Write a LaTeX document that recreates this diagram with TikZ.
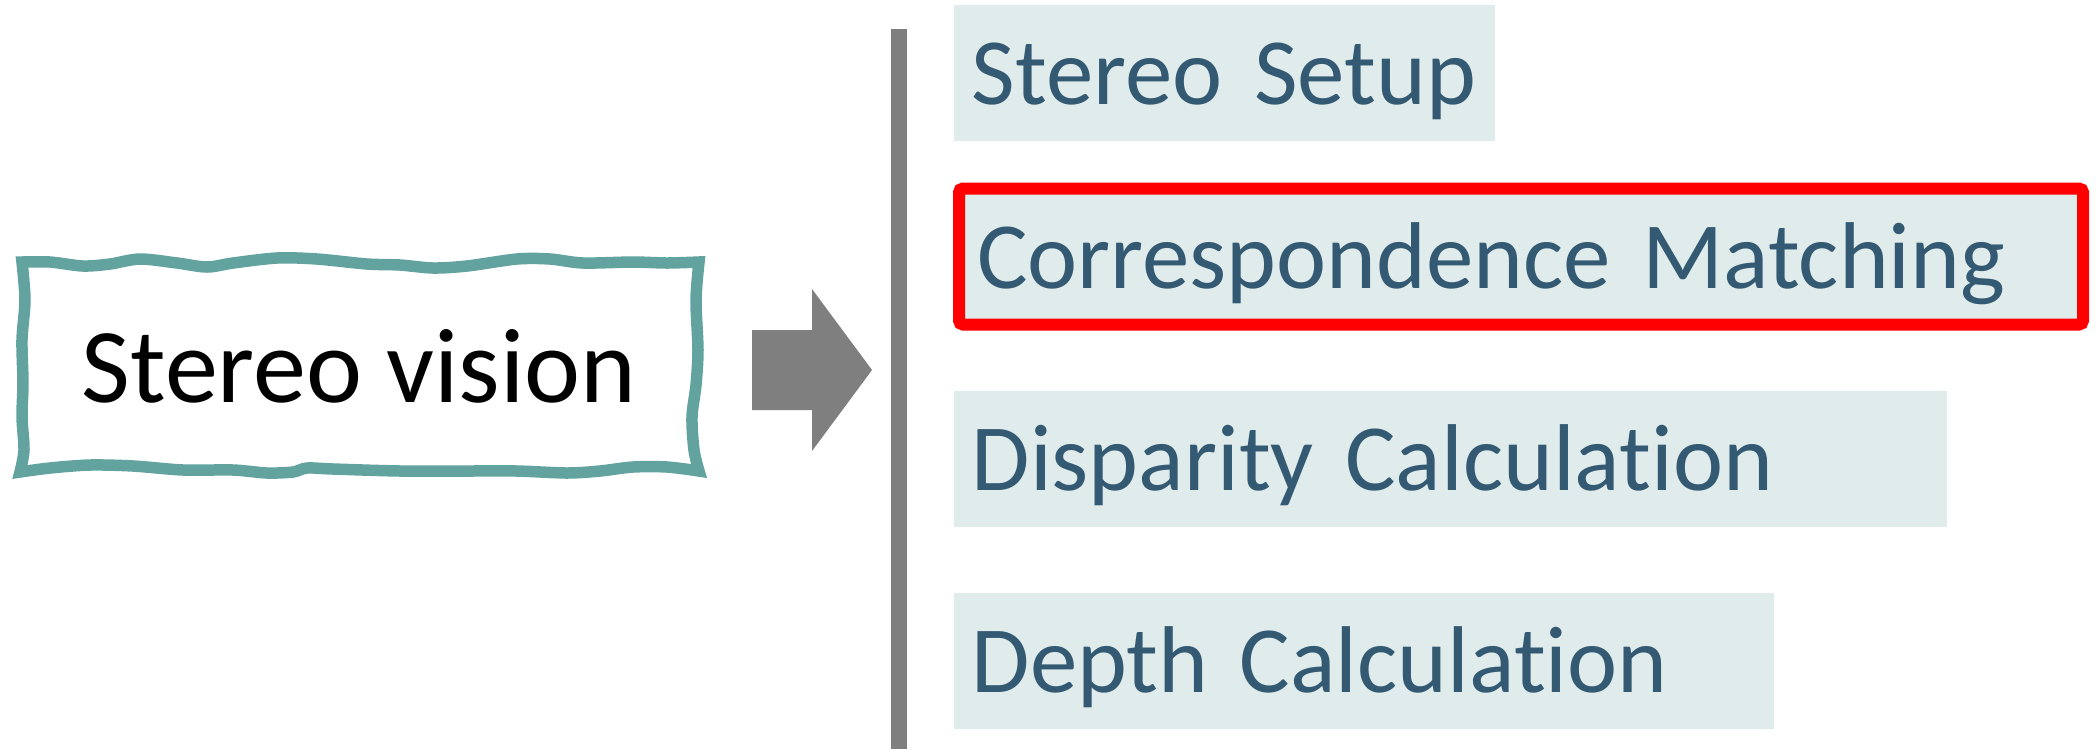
\documentclass[tikz,border=0pt]{standalone}
\usepackage{fontspec}
\setmainfont{Carlito}[Ligatures=NoCommon]
\usepackage{tikz}
\definecolor{itemfill}{RGB}{224,236,236}
\definecolor{itemtext}{RGB}{52,90,115}
\definecolor{wavyline}{RGB}{98,163,159}
\definecolor{bargrey}{RGB}{127,127,127}
\tikzstyle{item} = [fill=itemfill, text=itemtext, anchor=north west, inner xsep=1.8mm,
inner ysep=0pt, text height=9.95mm, text depth=3.65mm, align=left,
font=\fontsize{27pt}{32pt}\selectfont]
\tikzstyle{focus} = [draw=red, line width=1.2mm, rounded corners=0.4mm]

\begin{document}
\begin{tikzpicture}[x=0.1mm, y=-0.1mm]
    \useasboundingbox (0,0) rectangle (2096,749);
    % hand drawn frame
    \draw[wavyline, line width=1.15mm, fill=white]
        plot[smooth] coordinates {(22,262) (50,262) (83,266) (110,264) (140,259) (177,263)
            (207,267) (233,263) (277,258) (317,259) (367,264) (400,265) (433,268) (467,266)
            (517,259) (550,259) (583,263) (633,262) (667,263) (699,262)}
        -- plot[smooth] coordinates {(699,262) (696,300) (698,350) (696,385) (692,417)
            (694,450) (699,471)}
        -- plot[smooth] coordinates {(699,471) (667,467) (633,467) (600,471) (567,473)
            (517,471) (467,471) (400,471) (333,469) (307,468) (293,472) (267,473) (233,470)
            (183,470) (133,466) (90,465) (50,468) (20,472)}
        -- plot[smooth] coordinates {(20,472) (24,450) (22,417) (23,383) (22,340) (25,300) (22,262)}
        -- cycle;
    \node[anchor=base, font=\fontsize{30.2pt}{36pt}\selectfont] (vision) at (359,402) {Stereo vision};
    % block arrow and bar
    \fill[bargrey] (752,330) -- (812,330) -- (812,289) -- (872,370) -- (812,451)
        -- (812,410) -- (752,410) -- cycle;
    \fill[bargrey] (891,29) rectangle (907,749);
    % steps
    \node[item, text width=50.5mm] (setup) at (953,4) {\mbox{Stereo Setup}};
    \node[item, focus, text width=108.8mm] (matching) at (953,182.5) {Correspondence Matching};
    \node[item, text width=95.7mm] (disparity) at (953,390) {Disparity Calculation};
    \node[item, text width=78.4mm] (depth) at (953,592.7) {Depth Calculation};
\end{tikzpicture}
\end{document}
